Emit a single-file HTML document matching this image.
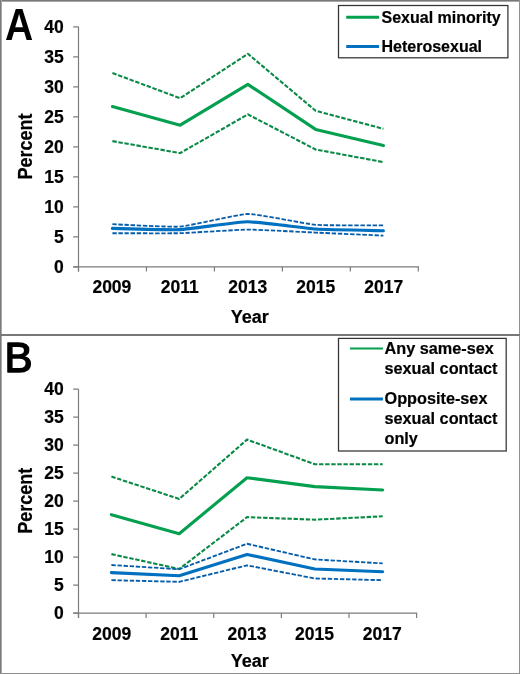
<!DOCTYPE html>
<html><head><meta charset="utf-8"><style>
html,body{margin:0;padding:0;background:#fff;}
svg{display:block;will-change:transform;}
text{font-family:"Liberation Sans",sans-serif;font-weight:bold;fill:#000;stroke:#000;stroke-width:0.2px;stroke-linejoin:round;}
.t{font-size:17.5px;}
.ti{font-size:18px;}
.lg{font-size:16px;}
.lgb{font-size:16.25px;}
.L{font-size:42px;font-weight:normal;stroke:#000;stroke-width:1.1px;}
.LA{font-weight:bold;stroke-width:0px;stroke:none;}
.LB{font-weight:normal;stroke-width:1.5px;}
</style></head><body>
<svg width="520" height="674" viewBox="0 0 520 674">
<rect width="520" height="674" fill="#fff"/>
<path d="M78.50 26.80V271.60" stroke="#7c7c7c" stroke-width="1.2" fill="none"/>
<path d="M73.20 266.80H418.90" stroke="#7c7c7c" stroke-width="1.2" fill="none"/>
<path d="M73.20 266.80H78.50M73.20 236.80H78.50M73.20 206.80H78.50M73.20 176.80H78.50M73.20 146.80H78.50M73.20 116.80H78.50M73.20 86.80H78.50M73.20 56.80H78.50M73.20 26.80H78.50" stroke="#7c7c7c" stroke-width="1.2" fill="none"/>
<path d="M78.50 266.80V271.60M146.46 266.80V271.60M214.42 266.80V271.60M282.38 266.80V271.60M350.34 266.80V271.60M418.30 266.80V271.60" stroke="#7c7c7c" stroke-width="1.2" fill="none"/>
<text x="63.7" y="272.90" text-anchor="end" class="t">0</text>
<text x="63.7" y="242.90" text-anchor="end" class="t">5</text>
<text x="63.7" y="212.90" text-anchor="end" class="t">10</text>
<text x="63.7" y="182.90" text-anchor="end" class="t">15</text>
<text x="63.7" y="152.90" text-anchor="end" class="t">20</text>
<text x="63.7" y="122.90" text-anchor="end" class="t">25</text>
<text x="63.7" y="92.90" text-anchor="end" class="t">30</text>
<text x="63.7" y="62.90" text-anchor="end" class="t">35</text>
<text x="63.7" y="32.90" text-anchor="end" class="t">40</text>
<text x="111.88" y="293.20" text-anchor="middle" class="t">2009</text>
<text x="179.84" y="293.20" text-anchor="middle" class="t">2011</text>
<text x="247.80" y="293.20" text-anchor="middle" class="t">2013</text>
<text x="315.76" y="293.20" text-anchor="middle" class="t">2015</text>
<text x="383.72" y="293.20" text-anchor="middle" class="t">2017</text>
<polyline points="112.40,73.00 180.15,98.20 247.90,53.80 315.65,110.80 383.40,128.80" fill="none" stroke="#0a8a46" stroke-width="2.1" stroke-linejoin="round" stroke-dasharray="4.4 1.7"/>
<polyline points="112.40,141.10 180.15,153.10 247.90,114.40 315.65,149.50 383.40,162.10" fill="none" stroke="#0a8a46" stroke-width="2.1" stroke-linejoin="round" stroke-dasharray="4.4 1.7"/>
<polyline points="112.40,106.60 180.15,125.20 247.90,84.40 315.65,129.40 383.40,145.60" fill="none" stroke="#04a04f" stroke-width="3.1" stroke-linejoin="round" stroke-linecap="round"/>
<path d="M112.40 224.20C117.14 224.37 170.66 227.31 180.15 226.60C189.64 225.89 238.42 214.13 247.90 214.00C257.38 213.87 306.16 224.00 315.65 224.80C325.13 225.60 378.66 225.36 383.40 225.40" fill="none" stroke="#055cab" stroke-width="1.85" stroke-linejoin="round" stroke-dasharray="4.4 1.7"/>
<path d="M112.40 233.20C117.14 233.20 170.66 233.45 180.15 233.20C189.64 232.95 238.42 229.64 247.90 229.60C257.38 229.56 306.16 232.18 315.65 232.60C325.13 233.02 378.66 235.39 383.40 235.60" fill="none" stroke="#055cab" stroke-width="1.85" stroke-linejoin="round" stroke-dasharray="4.4 1.7"/>
<path d="M112.40 228.40C117.14 228.48 170.66 230.06 180.15 229.60C189.64 229.14 238.42 221.84 247.90 221.80C257.38 221.76 306.16 228.37 315.65 229.00C325.13 229.63 378.66 230.67 383.40 230.80" fill="none" stroke="#0070c0" stroke-width="3.1" stroke-linejoin="round" stroke-linecap="round"/>
<path d="M78.50 389.20V618.00" stroke="#7c7c7c" stroke-width="1.2" fill="none"/>
<path d="M73.20 613.20H417.20" stroke="#7c7c7c" stroke-width="1.2" fill="none"/>
<path d="M73.20 613.20H78.50M73.20 585.20H78.50M73.20 557.20H78.50M73.20 529.20H78.50M73.20 501.20H78.50M73.20 473.20H78.50M73.20 445.20H78.50M73.20 417.20H78.50M73.20 389.20H78.50" stroke="#7c7c7c" stroke-width="1.2" fill="none"/>
<path d="M78.50 613.20V618.00M146.12 613.20V618.00M213.74 613.20V618.00M281.36 613.20V618.00M348.98 613.20V618.00M416.60 613.20V618.00" stroke="#7c7c7c" stroke-width="1.2" fill="none"/>
<text x="63.7" y="619.30" text-anchor="end" class="t">0</text>
<text x="63.7" y="591.30" text-anchor="end" class="t">5</text>
<text x="63.7" y="563.30" text-anchor="end" class="t">10</text>
<text x="63.7" y="535.30" text-anchor="end" class="t">15</text>
<text x="63.7" y="507.30" text-anchor="end" class="t">20</text>
<text x="63.7" y="479.30" text-anchor="end" class="t">25</text>
<text x="63.7" y="451.30" text-anchor="end" class="t">30</text>
<text x="63.7" y="423.30" text-anchor="end" class="t">35</text>
<text x="63.7" y="395.30" text-anchor="end" class="t">40</text>
<text x="111.71" y="639.60" text-anchor="middle" class="t">2009</text>
<text x="179.33" y="639.60" text-anchor="middle" class="t">2011</text>
<text x="246.95" y="639.60" text-anchor="middle" class="t">2013</text>
<text x="314.57" y="639.60" text-anchor="middle" class="t">2015</text>
<text x="382.19" y="639.60" text-anchor="middle" class="t">2017</text>
<polyline points="111.40,476.56 179.22,498.96 247.04,439.60 314.86,464.24 382.68,464.24" fill="none" stroke="#0a8a46" stroke-width="2.1" stroke-linejoin="round" stroke-dasharray="4.4 1.7"/>
<polyline points="111.40,554.12 179.22,568.96 247.04,517.16 314.86,519.68 382.68,516.32" fill="none" stroke="#0a8a46" stroke-width="2.1" stroke-linejoin="round" stroke-dasharray="4.4 1.7"/>
<polyline points="111.40,514.64 179.22,533.68 247.04,477.68 314.86,486.64 382.68,490.00" fill="none" stroke="#04a04f" stroke-width="3.1" stroke-linejoin="round" stroke-linecap="round"/>
<polyline points="111.40,565.04 179.22,569.24 247.04,543.76 314.86,559.44 382.68,563.36" fill="none" stroke="#055cab" stroke-width="1.85" stroke-linejoin="round" stroke-dasharray="4.4 1.7"/>
<polyline points="111.40,580.16 179.22,581.84 247.04,565.32 314.86,578.48 382.68,580.16" fill="none" stroke="#055cab" stroke-width="1.85" stroke-linejoin="round" stroke-dasharray="4.4 1.7"/>
<polyline points="111.40,572.60 179.22,575.68 247.04,554.40 314.86,568.96 382.68,571.76" fill="none" stroke="#0070c0" stroke-width="3.1" stroke-linejoin="round" stroke-linecap="round"/>
<text x="249.8" y="323" text-anchor="middle" class="ti">Year</text>
<text x="249.8" y="666.5" text-anchor="middle" class="ti">Year</text>
<text transform="translate(32.3 146.5) rotate(-90) scale(1 1.1)" text-anchor="middle" class="ti">Percent</text>
<text transform="translate(32.3 500.8) rotate(-90) scale(1 1.1)" text-anchor="middle" class="ti">Percent</text>
<text transform="translate(4.9 40.3) scale(0.93 1.04)" class="L LA">A</text>
<text transform="translate(4.4 372.4) scale(1 1)" class="L LB">B</text>
<rect x="338.5" y="5.5" width="169.4" height="52.3" fill="#fff" stroke="#333" stroke-width="1.25"/>
<path d="M346.2 17.2H379.1" stroke="#04a04f" stroke-width="3"/>
<path d="M346.2 46.4H379.1" stroke="#0070c0" stroke-width="3"/>
<text x="381.5" y="23.3" class="lg">Sexual minority</text>
<text x="381.5" y="51.6" class="lg">Heterosexual</text>
<rect x="338.5" y="338.4" width="167.7" height="112.6" fill="#fff" stroke="#333" stroke-width="1.25"/>
<path d="M350 348.4H382.9" stroke="#04a04f" stroke-width="2"/>
<path d="M350 399H382.9" stroke="#0070c0" stroke-width="3"/>
<text x="384.5" y="353.8" class="lg lgb">Any same-sex</text>
<text x="384.5" y="374" class="lg lgb">sexual contact</text>
<text x="384.5" y="403.7" class="lg lgb">Opposite-sex</text>
<text x="384.5" y="423.5" class="lg lgb">sexual contact</text>
<text x="384.5" y="443.5" class="lg lgb">only</text>
<rect x="0" y="0" width="520" height="1" fill="#787878"/>
<rect x="0" y="1" width="520" height="1" fill="#a8a8a8"/>
<rect x="0" y="0" width="1" height="674" fill="#7a7a7a"/>
<rect x="1" y="0" width="1" height="674" fill="#aaaaaa"/>
<rect x="519" y="0" width="1" height="674" fill="#8f8f8f"/>
<rect x="0" y="673" width="520" height="1" fill="#8f8f8f"/>
<rect x="0" y="334" width="520" height="2" fill="#787878"/>
</svg>
</body></html>
